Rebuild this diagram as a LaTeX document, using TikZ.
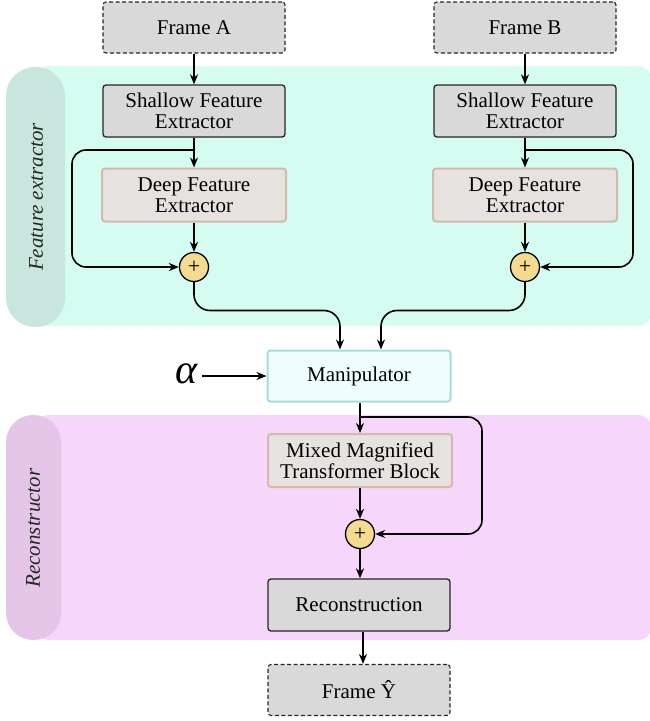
\documentclass[tikz,border=0pt]{standalone}
\usepackage{fontspec}
\setmainfont{LiberationSerif}[Extension=.ttf, UprightFont=*-Regular, ItalicFont=*-Italic, BoldFont=*-Bold, BoldItalicFont=*-BoldItalic]
\usetikzlibrary{arrows.meta,calc}

\definecolor{bandteal}{HTML}{D5FCF0}
\definecolor{pillteal}{HTML}{C8E6DD}
\definecolor{bandpink}{HTML}{F7D6FB}
\definecolor{pillpink}{HTML}{E5C6E9}
\definecolor{boxgray}{HTML}{D9D9D9}
\definecolor{deepfill}{HTML}{E6E2DF}
\definecolor{deepline}{HTML}{D3B9B0}
\definecolor{sumfill}{HTML}{F4DB8F}
\definecolor{manfill}{HTML}{EEFEFE}
\definecolor{manline}{HTML}{A7DDD9}

\tikzset{
  basebox/.style={rectangle, rounded corners=3pt, align=center,
    font=\fontsize{21}{21}\selectfont, inner sep=0pt},
  framebox/.style={basebox, draw=black!85, line width=1.1pt, dashed,
    dash pattern=on 4pt off 2.5pt, fill=boxgray, minimum width=182pt, minimum height=51pt},
  grayblock/.style={basebox, draw=black!85, line width=1.3pt, fill=boxgray,
    minimum width=182pt, minimum height=52pt},
  deepblock/.style={basebox, draw=deepline, line width=2pt, fill=deepfill,
    minimum width=184pt, minimum height=53pt},
  manblock/.style={basebox, draw=manline, line width=2pt, fill=manfill,
    minimum width=183pt, minimum height=51pt},
  sumnode/.style={circle, draw=black, line width=1.3pt, fill=sumfill,
    minimum size=29pt, inner sep=0pt, font=\fontsize{22}{22}\selectfont},
  arrow/.style={line width=1.6pt, -{Stealth[length=10pt,width=8pt]}},
  bandlabel/.style={rotate=90, font=\fontsize{21}{21}\selectfont\itshape, text=black!85}
}

\begin{document}
\begin{tikzpicture}[x=1pt,y=-1pt]
\useasboundingbox (0,0) rectangle (649,721);

% background bands
\fill[bandteal, rounded corners=14pt] (35,66) rectangle (652,326);
\fill[pillteal, rounded corners=29pt] (6,67) rectangle (65,327);
\node[bandlabel] (fxlabel) at (36,197) {Feature extractor};

\fill[bandpink, rounded corners=14pt] (35,415) rectangle (652,640);
\fill[pillpink, rounded corners=27pt] (6,415) rectangle (61,640);
\node[bandlabel] (rclabel) at (33,528) {Reconstructor};

% left branch
\node[framebox]  (frA) at (194,27.5) {Frame A};
\node[grayblock] (shA) at (194,111) {Shallow Feature\\Extractor};
\node[deepblock] (dpA) at (194,195) {Deep Feature\\Extractor};
\node[sumnode]   (plA) at (194,267) {+};

% right branch
\node[framebox]  (frB) at (525,27.5) {Frame B};
\node[grayblock] (shB) at (525,111) {Shallow Feature\\Extractor};
\node[deepblock] (dpB) at (525,195) {Deep Feature\\Extractor};
\node[sumnode]   (plB) at (525,267) {+};

% middle
\node[manblock] (man) at (359,376) {Manipulator};
\node[font=\fontsize{42}{42}\selectfont\itshape, inner sep=0pt] (alpha) at (187,374) {α};
\node[deepblock] (mmt) at (360,460.5) {Mixed Magnified\\Transformer Block};
\node[sumnode]   (plC) at (360,534) {+};
\node[grayblock] (rec) at (359,605) {Reconstruction};
\node[framebox]  (frY) at (359,690) {Frame Ŷ};

% branch points and inputs
\coordinate (brA) at (194,150);
\coordinate (brB) at (525,150);
\coordinate (brC) at (360,417);
\coordinate (inA) at ($(man.north)+(-19,0)$);
\coordinate (inB) at ($(man.north)+(22,0)$);
\coordinate (alout) at (202,376);

% left connectors
\draw[arrow] (frA) -- (shA);
\draw[arrow] (shA) -- (dpA);
\draw[arrow] (dpA) -- (plA);
\draw[arrow, rounded corners=14pt] (brA) -- (72,150) |- (plA.west);

% right connectors
\draw[arrow] (frB) -- (shB);
\draw[arrow] (shB) -- (dpB);
\draw[arrow] (dpB) -- (plB);
\draw[arrow, rounded corners=14pt] (brB) -- (633,150) |- (plB.east);

% merge into manipulator
\draw[arrow, rounded corners=16pt] (plA.south) |- ([yshift=39pt]inA) -- (inA);
\draw[arrow, rounded corners=16pt] (plB.south) |- ([yshift=39pt]inB) -- (inB);
\draw[arrow] (alout) -- (man.west);

% reconstructor connectors
\draw[arrow] (man.south -| mmt.north) -- (mmt.north);
\draw[arrow] (mmt) -- (plC);
\draw[arrow, rounded corners=14pt] (brC) -- (482,417) |- (plC.east);
\draw[arrow] (plC) -- (plC |- rec.north);
\draw[arrow] (rec.south -| 363,0) -- (frY.north -| 363,0);
\end{tikzpicture}
\end{document}
